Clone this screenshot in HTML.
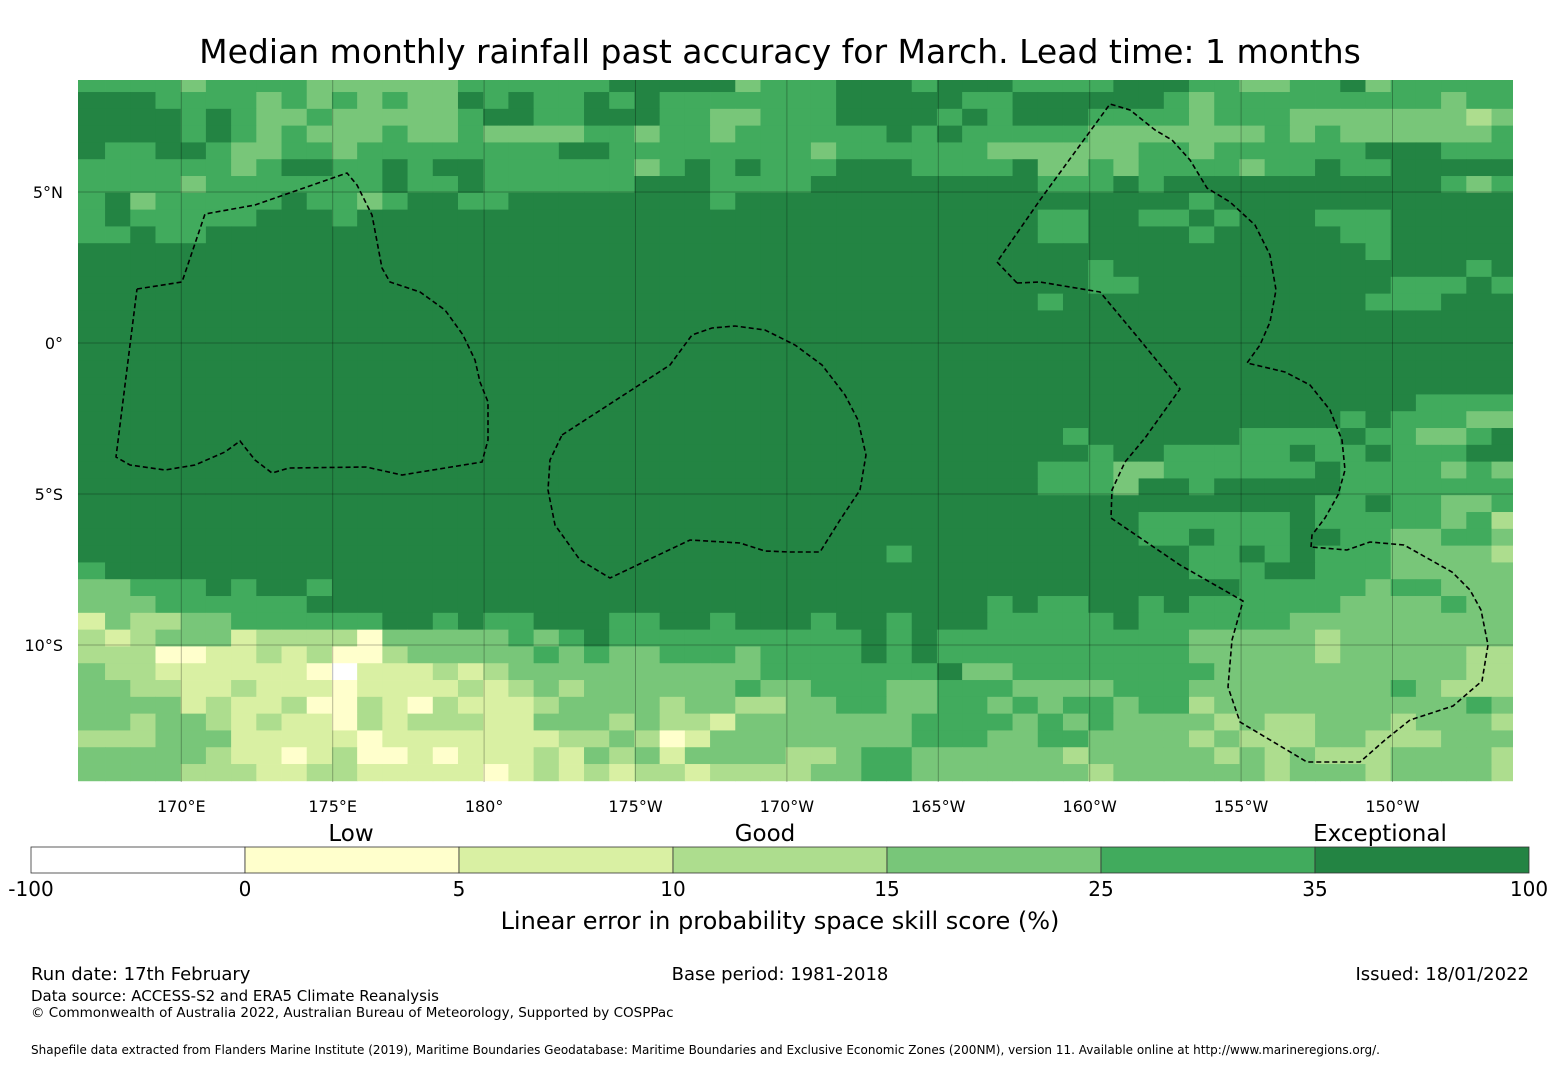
<!DOCTYPE html>
<html><head><meta charset="utf-8"><title>Median monthly rainfall past accuracy</title>
<style>
html,body{margin:0;padding:0;background:#fff;}
svg{display:block;font-family:"DejaVu Sans","Liberation Sans",sans-serif;}
</style></head>
<body>
<svg id="chart" width="1560" height="1065" viewBox="0 0 1560 1065" xmlns="http://www.w3.org/2000/svg">
<text x="780" y="63" text-anchor="middle" font-size="33" fill="#000">Median monthly rainfall past accuracy for March. Lead time: 1 months</text>
<defs><clipPath id="mapclip"><rect x="78" y="80" width="1435" height="702"/></clipPath></defs>
<g id="map" clip-path="url(#mapclip)">
<g id="cells"></g>
<g id="grid"></g>
<g id="eez" fill="none" stroke="#000" stroke-width="1.6" stroke-dasharray="5,3"></g>
</g>
<g id="xticks" font-size="16" text-anchor="middle"></g>
<g id="yticks" font-size="16" text-anchor="end"></g>
<g id="colorbar"></g>
<text x="351" y="841" text-anchor="middle" font-size="23">Low</text>
<text x="765" y="841" text-anchor="middle" font-size="23">Good</text>
<text x="1380" y="841" text-anchor="middle" font-size="23">Exceptional</text>
<text x="780" y="929" text-anchor="middle" font-size="24">Linear error in probability space skill score (%)</text>
<text x="31" y="980" font-size="18">Run date: 17th February</text>
<text x="780" y="980" text-anchor="middle" font-size="18">Base period: 1981-2018</text>
<text x="1529" y="980" text-anchor="end" font-size="18">Issued: 18/01/2022</text>
<text x="31" y="1001" font-size="15">Data source: ACCESS-S2 and ERA5 Climate Reanalysis</text>
<text x="31" y="1017" font-size="13.5">© Commonwealth of Australia 2022, Australian Bureau of Meteorology, Supported by COSPPac</text>
<text x="31" y="1054" font-size="12">Shapefile data extracted from Flanders Marine Institute (2019), Maritime Boundaries Geodatabase: Maritime Boundaries and Exclusive Economic Zones (200NM), version 11. Available online at http://www.marineregions.org/.</text>
</svg>
<script>
// ---- data ----
const lonTicks = [170, 175, 180, 185, 190, 195, 200, 205, 210];
const lonTickLabels = ["170°E","175°E","180°","175°W","170°W","165°W","160°W","155°W","150°W"];
const latTicks = [5, 0, -5, -10];
const latTickLabels = ["5°N","0°","5°S","10°S"];
const cbBounds = [-100, 0, 5, 10, 15, 25, 35, 100];
const cbLabels = ["-100","0","5","10","15","25","35","100"];
const classColors = ["#ffffff","#ffffcc","#d9f0a3","#addd8e","#78c679","#41ab5d","#238443"];
const classValues = [-20, 2.5, 7.5, 12.5, 20, 30, 50];
const gridLon0 = 166.65, gridDLon = 0.8325;
const gridLat0 = 8.867, gridDLat = 0.5563;
const S6 = "6666666666666666666";
const skillClassRows = [
"5555455554444445555"+"5566666455566656665"+"5556665544556455555",
"6665555454545446565"+"5656555555566666556"+"6666654555555555455",
"6666565445444445665"+"5666554455566665656"+"6655554555444444434",
"6666565454445445444"+"4554554555555656555"+"5544444445454444445",
"6556654455455555555"+"6655555555455555544"+"4444554555555666555",
"5555554566556566555"+"5554565655566655556"+"4454555545565566666",
"5555455555556556555"+"5556665555666666666"+"5556566666666666545",
"5645555565545665566"+"6666665666666666666"+"6666665666666666666",
"5655555666566666666"+S6+"5566556566655566666",
"5565566666666666666"+S6+"5566665666665566666",
S6+S6+"6666666666666566666",
S6+S6+"6656666666666666656",
S6+S6+"6655666666666655565",
S6+S6+"5666666666666555666",
S6+S6+S6,
S6+S6+S6,
S6+S6+S6,
S6+S6+S6,
S6+S6+S6,
S6+S6+"6666666666666665555",
S6+S6+"6666666666665655544",
S6+S6+"6566666655556554456",
S6+S6+"6656655555655655566",
S6+S6+"5554455555565555454",
S6+S6+"5554665666665555555",
S6+S6+"6666666666655655445",
S6+S6+"6666555555655555453",
S6+S6+"6666556555665544554",
S6+"6666666666666566666"+"6666665565655544443",
"5666666666666666666"+S6+"6666665556655544444",
"4455565665666666666"+S6+"6666666655555455444",
"4445555556666666666"+"6666666666666666656"+"5566565555554444544",
"2433445555556656556"+"6655665666566566655"+"5556555555444444444",
"3234442333314444454"+"5655555555556565555"+"5555554444434444444",
"3331122323113444445"+"4544555455556565555"+"5555554444434444433",
"4332222221022232344"+"4444444455555556445"+"5555555444444444433",
"4433223222122223234"+"3444444544555445554"+"4445554444444454333",
"4444232231132132223"+"4444344334455445545"+"4554553444444444454",
"4434432322132333224"+"4434332444444455554"+"5454444343344434443",
"3334442222212222222"+"3343124444444455544"+"5544443433344333444",
"4444432212311212223"+"2434244443345544444"+"4344444343433344443",
"4444333223322222123"+"2323323333445544444"+"4434444443444344443"
];
const eezLines = [
 [[137,289],[182,282],[205,214],[255,205],[347,173],[357,185],[372,215],[382,268],[390,282],[420,292],[445,310],[463,335],[475,360],[480,382],[488,402],[488,440],[482,462],[402,475],[366,467],[289,468],[272,473],[255,460],[240,441],[225,452],[195,465],[165,470],[130,465],[116,457],[137,289]],
 [[562,435],[670,365],[692,335],[712,328],[735,326],[765,330],[795,345],[822,365],[845,395],[858,420],[866,455],[860,490],[840,520],[820,552],[790,552],[765,551],[740,543],[690,540],[610,578],[580,560],[555,525],[548,490],[550,460],[562,435]],
 [[1017,283],[997,262],[1040,200],[1110,104],[1130,110],[1155,130],[1172,140],[1190,160],[1207,188],[1230,202],[1255,225],[1270,255],[1276,290],[1270,322],[1260,345],[1247,363],[1285,372],[1310,385],[1330,410],[1342,440],[1345,470],[1338,495],[1325,518],[1312,535],[1311,547]],
 [[1017,283],[1040,282],[1100,292],[1140,340],[1180,389],[1145,438],[1125,462],[1112,490],[1111,518],[1180,565],[1243,601],[1232,640],[1228,687],[1240,722],[1307,762],[1360,762],[1385,740],[1410,720],[1453,706],[1482,681],[1488,645],[1481,610],[1470,590],[1452,572],[1404,545],[1370,542],[1347,550],[1311,547]]
];
// ---- scales ----
const NS = "http://www.w3.org/2000/svg";
function xScale(lon){ return 181.3 + (lon - 170) * 30.28; }
function yScale(lat){ return 343 - lat * 30.2; }
function cbScale(i){ return 31 + i * (1498 / (cbBounds.length - 1)); }
function colorFor(v){
  let c = 0;
  for (let i = 1; i < cbBounds.length - 1; i++) if (v >= cbBounds[i]) c = i;
  if (v >= 0 && c === 0) c = 1;
  return classColors[c];
}
function mk(tag, attrs, parent){
  const e = document.createElementNS(NS, tag);
  for (const k in attrs) e.setAttribute(k, attrs[k]);
  parent.appendChild(e); return e;
}
// ---- cells ----
const cellsG = document.getElementById('cells');
skillClassRows.forEach((row, r) => {
  const latTop = gridLat0 - r * gridDLat, latBot = latTop - gridDLat;
  for (let c = 0; c < row.length; c++) {
    const v = classValues[+row[c]];
    const lonL = gridLon0 + c * gridDLon, lonR = lonL + gridDLon;
    let x0 = xScale(lonL); if (c === 0) x0 -= 3;
    const rect = mk('rect', {x: x0.toFixed(2), y: yScale(latTop).toFixed(2),
      width: (xScale(lonR) - x0 + 0.4).toFixed(2), height: (yScale(latBot) - yScale(latTop) + 0.4).toFixed(2),
      fill: colorFor(v)}, cellsG);
    
    
  }
});
// ---- graticule & ticks ----
const gridG = document.getElementById('grid');
const xt = document.getElementById('xticks'), yt = document.getElementById('yticks');
lonTicks.forEach((lon, i) => {
  const x = xScale(lon);
  const l = mk('line', {x1: x, x2: x, y1: 80, y2: 782, stroke: '#000', 'stroke-opacity': 0.28, 'stroke-width': 1}, gridG);
  
  
  const t = mk('text', {x: x, y: 812}, xt); t.textContent = lonTickLabels[i];
  
  
});
latTicks.forEach((lat, i) => {
  const y = yScale(lat);
  const l = mk('line', {x1: 78, x2: 1513, y1: y, y2: y, stroke: '#000', 'stroke-opacity': 0.28, 'stroke-width': 1}, gridG);
  
  
  const t = mk('text', {x: 63, y: y + 6}, yt); t.textContent = latTickLabels[i];
  
  
});
// ---- EEZ ----
const eezG = document.getElementById('eez');
eezLines.forEach(pts => {
  const p = mk('polyline', {points: pts.map(q => q.join(',')).join(' ')}, eezG);
  
  
});
// ---- colorbar ----
const cbG = document.getElementById('colorbar');
for (let i = 0; i < cbBounds.length - 1; i++) {
  const mid = (cbBounds[i] + cbBounds[i + 1]) / 2;
  const r = mk('rect', {x: cbScale(i), y: 847, width: cbScale(i + 1) - cbScale(i), height: 26, fill: colorFor(mid), stroke: '#333', 'stroke-width': 0.8}, cbG);
  
  
}
cbLabels.forEach((lab, i) => {
  const t = mk('text', {x: cbScale(i), y: 896, 'text-anchor': 'middle', 'font-size': 20}, cbG);
  t.textContent = lab;
  
  
});
</script>
</body></html>
